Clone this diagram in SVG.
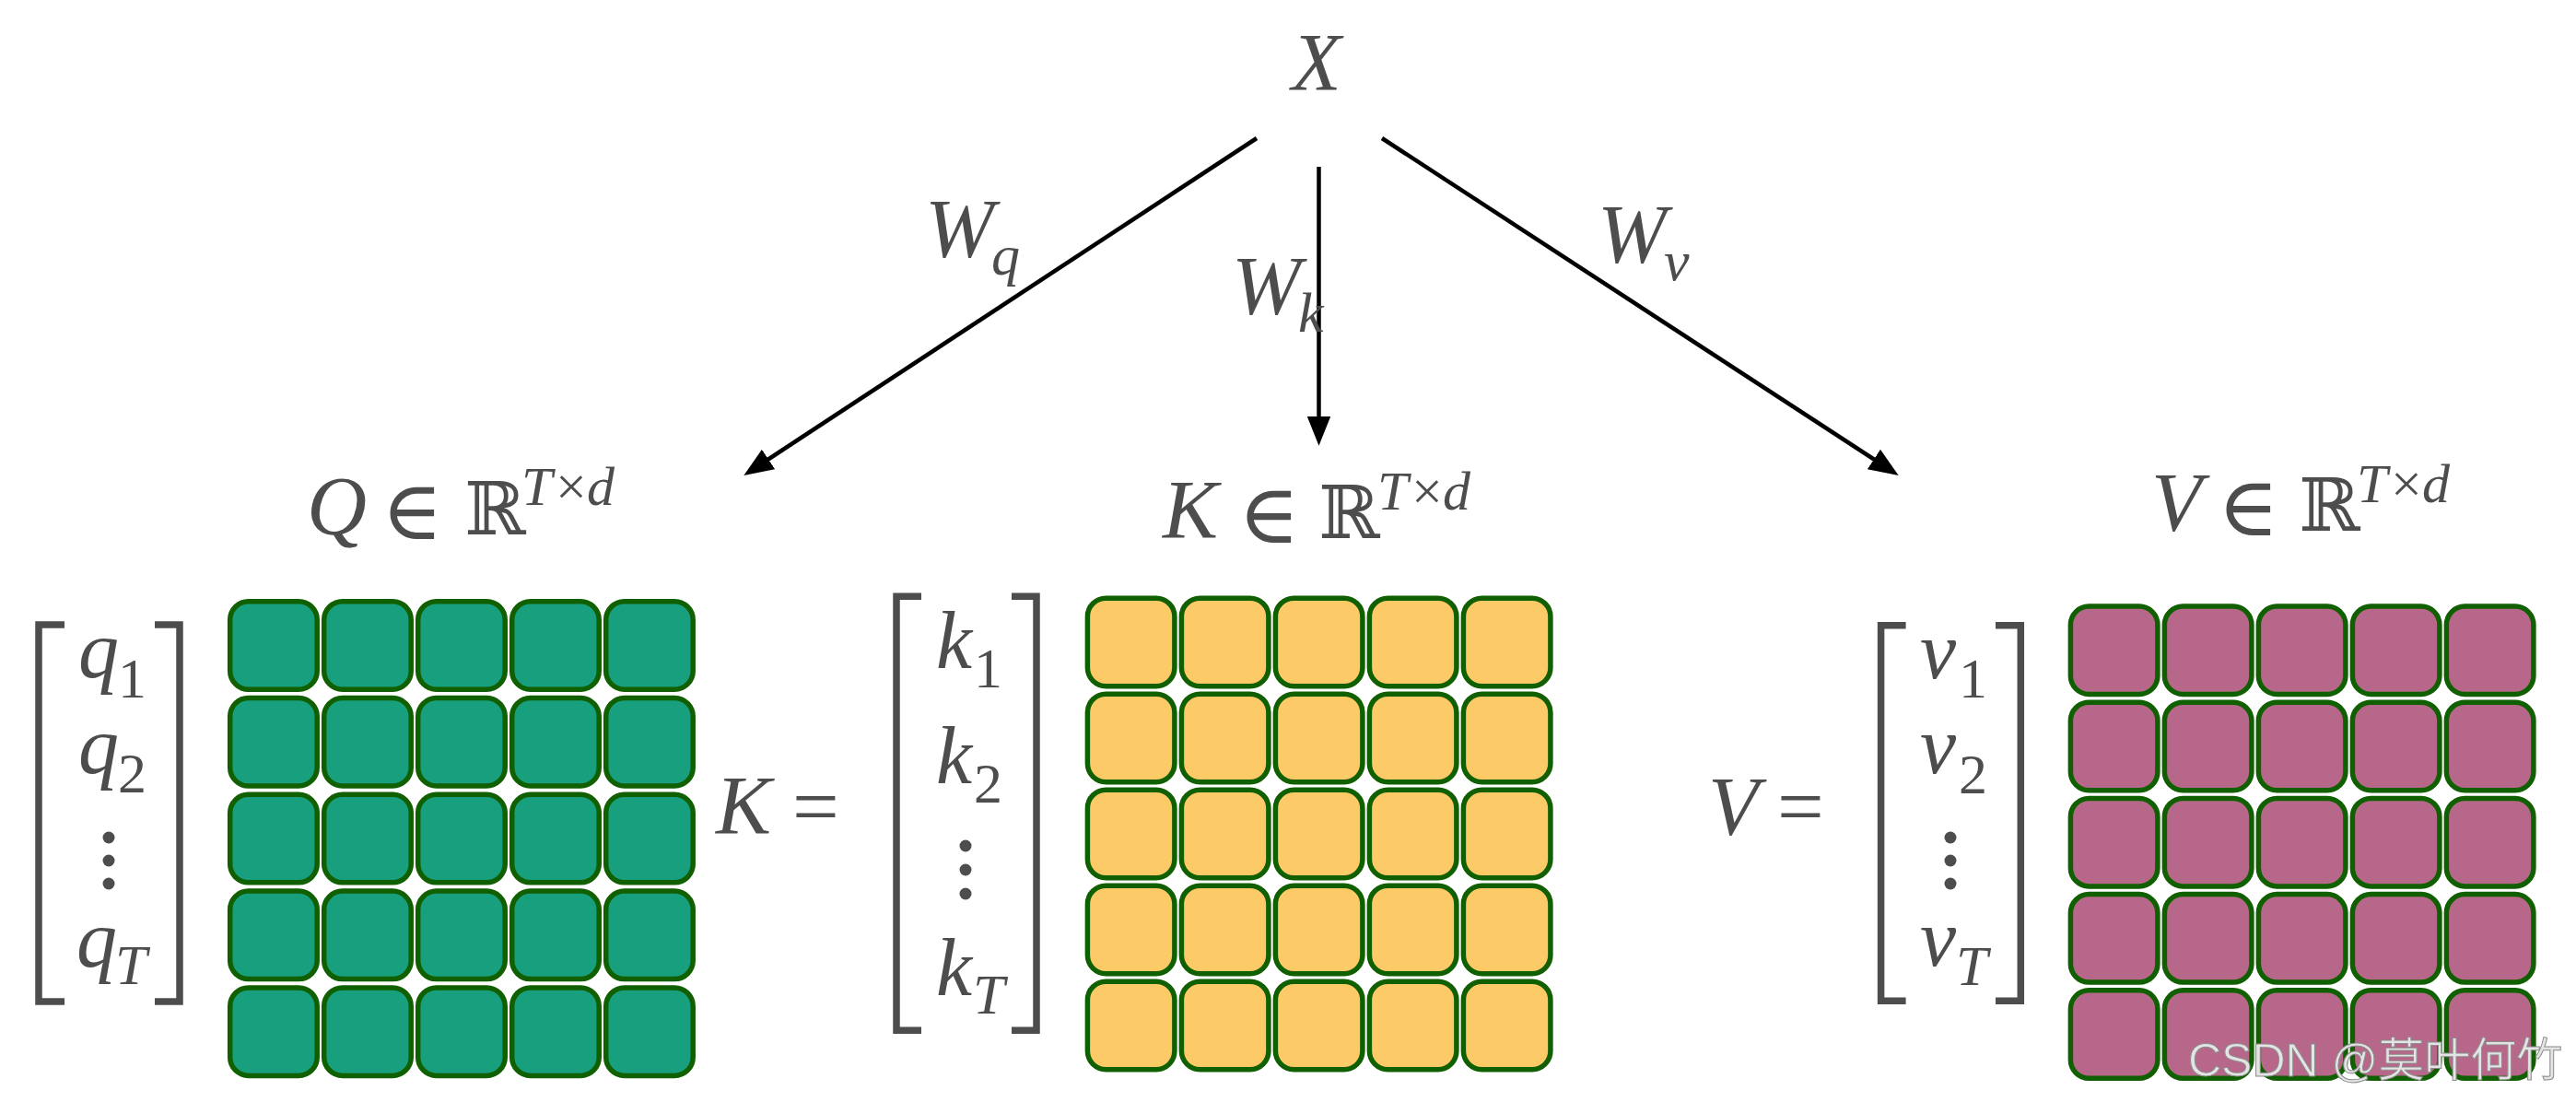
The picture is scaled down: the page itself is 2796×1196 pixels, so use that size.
<svg xmlns="http://www.w3.org/2000/svg" width="2796" height="1196" viewBox="0 0 2796 1196">
<defs>
<style>
.m{font-family:"Liberation Serif","Times New Roman",serif;fill:#4d4d4d}
.i{font-style:italic}
.big{font-size:90px}
.sub{font-size:62px}
.sup{font-size:60px}
.sym{font-family:"DejaVu Serif","DejaVu Sans",serif;fill:#4d4d4d}
.br{fill:none;stroke:#4d4d4d;stroke-width:7.5;stroke-linejoin:miter}
.dot{fill:#4d4d4d}
.cell{stroke:#105f00;stroke-width:5.5}
.g{fill:#189f7d}
.y{fill:#fccb68}
.p{fill:#b7688a}
.conn{stroke:#000;stroke-width:4.5;fill:none}
.wm{font-family:"Liberation Sans","Noto Sans CJK SC",sans-serif;font-size:50px;fill:#e4e4e4;stroke:#8c8c8c;stroke-width:1}
</style>
<marker id="ah" markerUnits="userSpaceOnUse" markerWidth="32" markerHeight="26" viewBox="0 0 30 24" refX="18" refY="12" orient="auto">
<path d="M0,0 L30,12 L0,24 z" fill="#000"/>
</marker>
<g id="rowG">
<rect class="cell g" x="0" y="0" width="94.5" height="95.5" rx="20"/>
<rect class="cell g" x="102" y="0" width="94.5" height="95.5" rx="20"/>
<rect class="cell g" x="204" y="0" width="94.5" height="95.5" rx="20"/>
<rect class="cell g" x="306" y="0" width="94.5" height="95.5" rx="20"/>
<rect class="cell g" x="408" y="0" width="94.5" height="95.5" rx="20"/>
</g>
<g id="rowY">
<rect class="cell y" x="0" y="0" width="94.5" height="95.5" rx="20"/>
<rect class="cell y" x="102" y="0" width="94.5" height="95.5" rx="20"/>
<rect class="cell y" x="204" y="0" width="94.5" height="95.5" rx="20"/>
<rect class="cell y" x="306" y="0" width="94.5" height="95.5" rx="20"/>
<rect class="cell y" x="408" y="0" width="94.5" height="95.5" rx="20"/>
</g>
<g id="rowP">
<rect class="cell p" x="0" y="0" width="94.5" height="95.5" rx="20"/>
<rect class="cell p" x="102" y="0" width="94.5" height="95.5" rx="20"/>
<rect class="cell p" x="204" y="0" width="94.5" height="95.5" rx="20"/>
<rect class="cell p" x="306" y="0" width="94.5" height="95.5" rx="20"/>
<rect class="cell p" x="408" y="0" width="94.5" height="95.5" rx="20"/>
</g>
</defs>
<rect width="2796" height="1196" fill="#fff"/>

<g id="node-X">
<text class="m i" x="1402" y="97" font-size="88">X</text>
</g>

<g id="connectors">
<line class="conn" x1="1364" y1="150" x2="818" y2="509" marker-end="url(#ah)"/>
<line class="conn" x1="1431.5" y1="181" x2="1431.5" y2="471" marker-end="url(#ah)"/>
<line class="conn" x1="1500" y1="150" x2="2050" y2="509" marker-end="url(#ah)"/>
<text class="m i big" x="1004" y="279">W</text><text class="m i sub" x="1076" y="298">q</text>
<text class="m i big" x="1337" y="341">W</text><text class="m i sub" x="1409" y="360">k</text>
<text class="m i big" x="1734" y="285">W</text><text class="m i sub" x="1806" y="304">v</text>
</g>

<g id="node-Q">
<text class="m i big" x="333" y="580">Q</text>
<text class="sym" x="414" y="585" font-size="90">∈</text>
<text class="sym" x="504" y="580" font-size="80">ℝ</text>
<text class="m i sup" x="566" y="548">T</text>
<text class="m sup" x="603" y="548">×</text>
<text class="m i sup" x="637" y="548">d</text>
<path class="br" d="M70,678 H42 V1087 H70"/>
<path class="br" d="M168,678 H195 V1087 H168"/>
<text class="m i" x="85" y="735" font-size="88">q</text><text class="m sub" x="128" y="757">1</text>
<text class="m i" x="85" y="839" font-size="88">q</text><text class="m sub" x="128" y="860">2</text>
<circle class="dot" cx="118" cy="909" r="6.5"/><circle class="dot" cx="118" cy="934" r="6.5"/><circle class="dot" cx="118" cy="959" r="6.5"/>
<text class="m i" x="83" y="1049" font-size="88">q</text><text class="m i sub" x="125" y="1068">T</text>
<use href="#rowG" x="249.7" y="652.7"/>
<use href="#rowG" x="249.7" y="757.5"/>
<use href="#rowG" x="249.7" y="862.3"/>
<use href="#rowG" x="249.7" y="967.1"/>
<use href="#rowG" x="249.7" y="1071.9"/>
</g>

<g id="node-K">
<text class="m i big" x="1262" y="584">K</text>
<text class="sym" x="1344" y="589" font-size="90">∈</text>
<text class="sym" x="1431" y="584" font-size="80">ℝ</text>
<text class="m i sup" x="1495" y="553">T</text>
<text class="m sup" x="1532" y="553">×</text>
<text class="m i sup" x="1566" y="553">d</text>
<text class="m i big" x="777" y="905">K</text>
<text class="m big" x="860" y="906">=</text>
<path class="br" d="M1000,647.3 H973 V1118.3 H1000"/>
<path class="br" d="M1098,647.3 H1125 V1118.3 H1098"/>
<text class="m i" x="1016" y="725" font-size="88">k</text><text class="m sub" x="1057" y="746">1</text>
<text class="m i" x="1016" y="850" font-size="88">k</text><text class="m sub" x="1057" y="871">2</text>
<circle class="dot" cx="1048" cy="918" r="6.5"/><circle class="dot" cx="1048" cy="944" r="6.5"/><circle class="dot" cx="1048" cy="970" r="6.5"/>
<text class="m i" x="1016" y="1080" font-size="88">k</text><text class="m i sub" x="1056" y="1100">T</text>
<use href="#rowY" x="1180.4" y="649.2"/>
<use href="#rowY" x="1180.4" y="753.2"/>
<use href="#rowY" x="1180.4" y="857.2"/>
<use href="#rowY" x="1180.4" y="961.2"/>
<use href="#rowY" x="1180.4" y="1065.2"/>
</g>

<g id="node-V">
<text class="m i big" x="2335" y="576">V</text>
<text class="sym" x="2407" y="581" font-size="90">∈</text>
<text class="sym" x="2495" y="576" font-size="80">ℝ</text>
<text class="m i sup" x="2558" y="545">T</text>
<text class="m sup" x="2595" y="545">×</text>
<text class="m i sup" x="2629" y="545">d</text>
<text class="m i big" x="1854" y="906">V</text>
<text class="m big" x="1929" y="906">=</text>
<path class="br" d="M2068.6,678.7 H2041.6 V1086.3 H2068.6"/>
<path class="br" d="M2166,678.7 H2193.3 V1086.3 H2166"/>
<text class="m i" x="2084" y="736" font-size="88">v</text><text class="m sub" x="2126" y="757">1</text>
<text class="m i" x="2084" y="839" font-size="88">v</text><text class="m sub" x="2126" y="861">2</text>
<circle class="dot" cx="2117" cy="909" r="6.5"/><circle class="dot" cx="2117" cy="934" r="6.5"/><circle class="dot" cx="2117" cy="959" r="6.5"/>
<text class="m i" x="2084" y="1048" font-size="88">v</text><text class="m i sub" x="2123" y="1069">T</text>
<use href="#rowP" x="2247.4" y="658"/>
<use href="#rowP" x="2247.4" y="762.2"/>
<use href="#rowP" x="2247.4" y="866.4"/>
<use href="#rowP" x="2247.4" y="970.6"/>
<use href="#rowP" x="2247.4" y="1074.8"/>
</g>

<text class="wm" x="2375" y="1168">CSDN @莫叶何竹</text>
</svg>
